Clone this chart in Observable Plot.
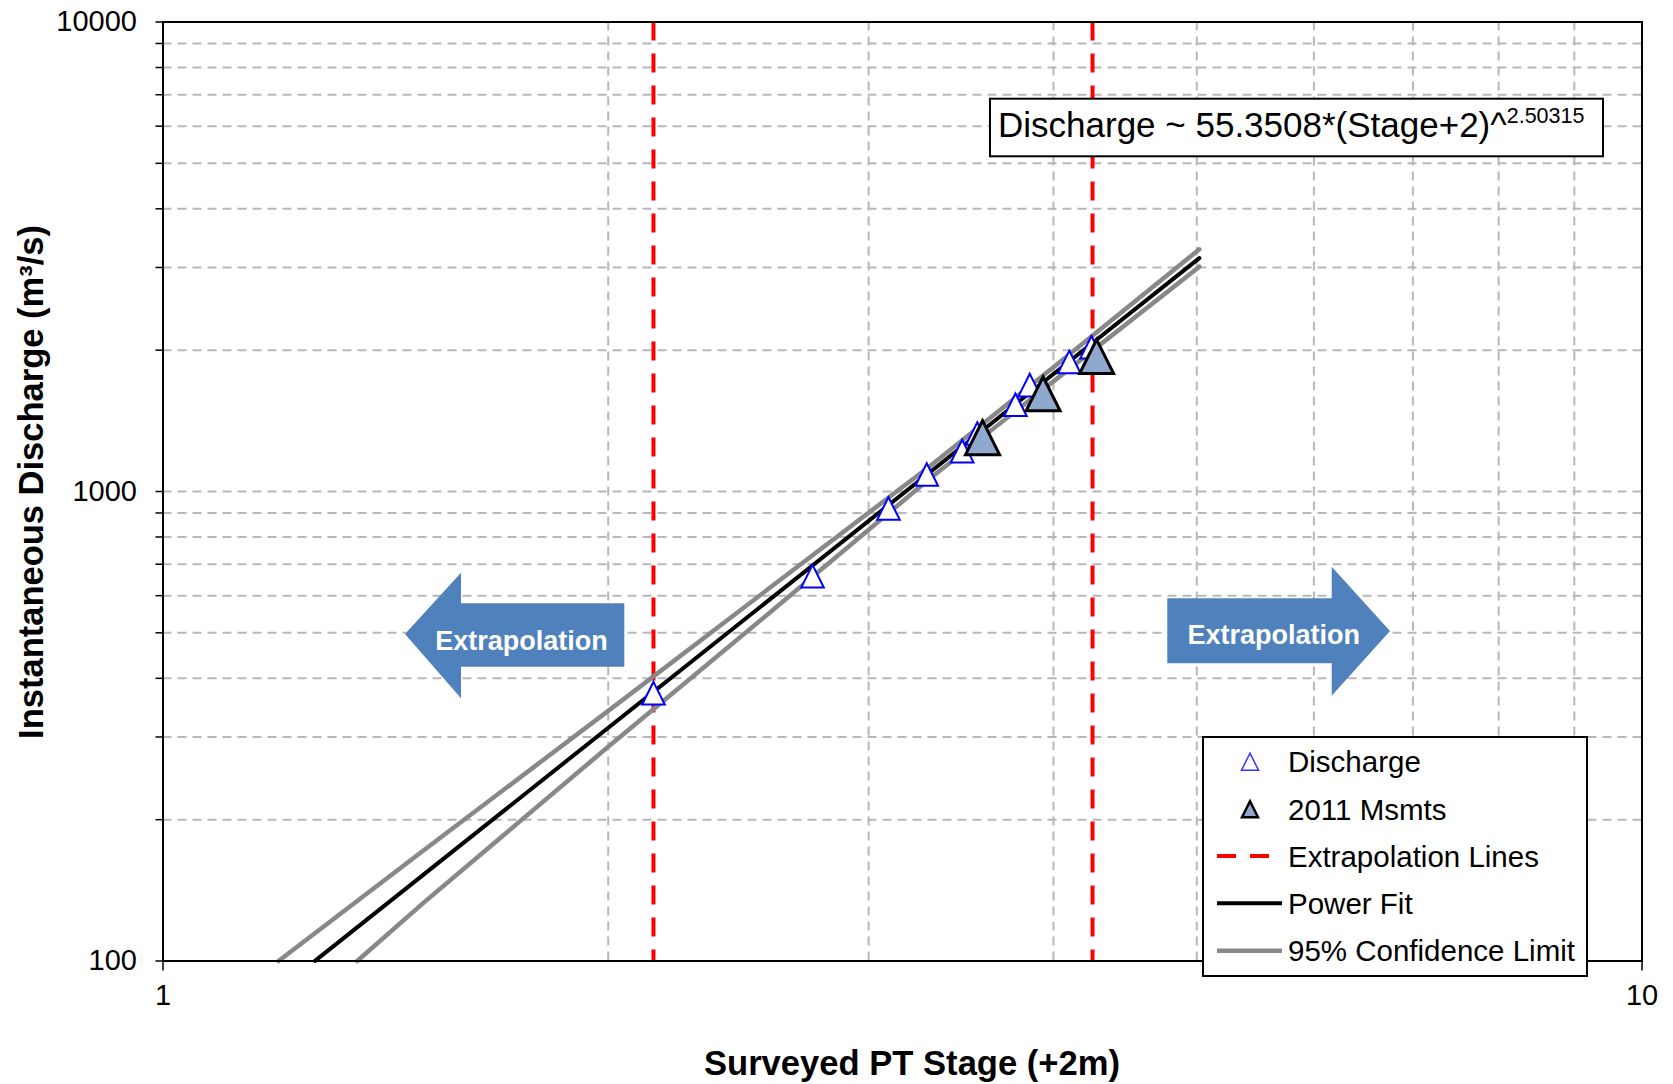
<!DOCTYPE html>
<html>
<head>
<meta charset="utf-8">
<script src="https://cdn.jsdelivr.net/npm/d3@7"></script>
<script src="https://cdn.jsdelivr.net/npm/@observablehq/plot@0.6"></script>
<style>
  body { margin: 0; background: #fff; }
  #chart svg text { font-family: "Liberation Sans", Arial, sans-serif; }
</style>
</head>
<body>
<div id="chart"></div>
<script>
// Stage values are surveyed PT stage + 2 m; discharge in m³/s.
const dischargeStage = [2.146, 2.749, 3.094, 3.284, 3.470, 3.553, 3.770, 3.855, 4.100, 4.244];
const dischargeValue = [372, 660, 920, 1087, 1219, 1329, 1530, 1685, 1888, 2029];

const msmt2011Stage = [3.582, 3.936, 4.278];
const msmt2011Value = [1302, 1615, 1938];

const extrapolationStage = [2.146, 4.251];

// Power fit: Discharge ~ 55.3508*(Stage+2)^2.50315
const fitCoef = 55.3508;
const fitExp = 2.50315;
const fitStage = [1.267, 5.02];

// 95% confidence limits
const upperStage = [1.197, 1.5, 2.0, 2.6, 3.3, 4.0, 5.02];
const upperValue = [100, 172, 341, 640, 1132, 1840, 3280];
const lowerStage = [1.353, 1.5, 2.0, 2.6, 3.3, 4.0, 5.02];
const lowerValue = [100, 133, 286, 568, 1066, 1716, 3012];

const xTicks = [1, 10];
const xGrid = [2, 3, 4, 5, 6, 7, 8, 9];
const yTicks = [100, 200, 300, 400, 500, 600, 700, 800, 900,
                1000, 2000, 3000, 4000, 5000, 6000, 7000, 8000, 9000, 10000];
const yTickLabels = [100, 1000, 10000];

const zip = (xs, ys) => xs.map((x, i) => ({x, y: ys[i]}));
const discharge = zip(dischargeStage, dischargeValue);
const msmts = zip(msmt2011Stage, msmt2011Value);
const fit = fitStage.map(x => ({x, y: fitCoef * Math.pow(x, fitExp)}));
const upper = zip(upperStage, upperValue);
const lower = zip(lowerStage, lowerValue);

// Triangle centred on its bounding box
const triangle = {
  draw(ctx, size) {
    const k = Math.sqrt(size / Math.PI);
    ctx.moveTo(0, -k);
    ctx.lineTo(k, k);
    ctx.lineTo(-k, k);
    ctx.closePath();
  }
};

const gridStyle = {stroke: "#b8b8b8", strokeOpacity: 1, strokeWidth: 2, strokeDasharray: "9,6"};

const W = 1673, H = 1084;
const plot = Plot.plot({
  width: W,
  height: H,
  marginLeft: 162.5,
  marginRight: 31.5,
  marginTop: 21.5,
  marginBottom: 123.5,
  style: {background: "white", fontFamily: "Liberation Sans, Arial, sans-serif"},
  x: {type: "log", domain: [1, 10]},
  y: {type: "log", domain: [100, 10000]},
  marks: [
    Plot.gridX({ticks: xGrid, ...gridStyle}),
    Plot.gridY({ticks: yTicks.filter(d => d !== 100 && d !== 10000), ...gridStyle}),
    Plot.ruleX(extrapolationStage, {stroke: "#ff0000", strokeWidth: 4, strokeDasharray: "19,13"}),
    Plot.line(upper, {x: "x", y: "y", stroke: "#888888", strokeWidth: 4.5}),
    Plot.line(lower, {x: "x", y: "y", stroke: "#888888", strokeWidth: 4.5}),
    Plot.line(fit, {x: "x", y: "y", stroke: "black", strokeWidth: 4}),
    Plot.dot(discharge, {x: "x", y: "y", symbol: triangle, r: 11.3, fill: "white", stroke: "#0000ff", strokeWidth: 2}),
    Plot.dot(msmts, {x: "x", y: "y", symbol: triangle, r: 17, fill: "#8fa8cd", stroke: "black", strokeWidth: 3}),
    Plot.frame({stroke: "black", strokeWidth: 2}),
    Plot.axisY({ticks: yTicks, tickSize: 7, tickPadding: 19, strokeWidth: 1.5, fontSize: 29,
      tickFormat: d => yTickLabels.includes(d) ? String(d) : "", label: null}),
    Plot.axisX({ticks: xTicks, tickSize: 10, tickPadding: 13, strokeWidth: 1.5, fontSize: 29,
      tickFormat: d => String(d), label: null})
  ]
});

document.getElementById("chart").appendChild(plot);

const svg = d3.select(plot);
const font = "Liberation Sans, Arial, sans-serif";

// Axis titles
svg.append("text")
  .attr("x", 912).attr("y", 1075)
  .attr("text-anchor", "middle")
  .attr("font-family", font).attr("font-size", 34.6).attr("font-weight", "bold")
  .attr("fill", "black")
  .text("Surveyed PT Stage (+2m)");

svg.append("text")
  .attr("transform", "translate(43,482) rotate(-90)")
  .attr("text-anchor", "middle")
  .attr("font-family", font).attr("font-size", 34.5).attr("font-weight", "bold")
  .attr("fill", "black")
  .text("Instantaneous Discharge (m³/s)");

// Extrapolation arrows
const arrowColor = "#4f81bd";
const leftArrow = [[405, 634], [461, 572.7], [461, 603.3], [624.3, 603.3], [624.3, 666.7], [461, 666.7], [461, 698.3]];
const rightArrow = [[1390, 631], [1331.7, 566.7], [1331.7, 598.3], [1167.3, 598.3], [1167.3, 663.3], [1331.7, 663.3], [1331.7, 695.7]];
for (const [pts, cx, by] of [[leftArrow, 521.5, 650], [rightArrow, 1273.7, 644]]) {
  svg.append("path")
    .attr("d", "M" + pts.map(p => p.join(",")).join("L") + "Z")
    .attr("fill", arrowColor);
  svg.append("text")
    .attr("x", cx).attr("y", by)
    .attr("text-anchor", "middle")
    .attr("font-family", font).attr("font-size", 27).attr("font-weight", "bold")
    .attr("fill", "white")
    .text("Extrapolation");
}

// Equation box
svg.append("rect")
  .attr("x", 990).attr("y", 98.7).attr("width", 613).attr("height", 57.6)
  .attr("fill", "white").attr("stroke", "black").attr("stroke-width", 2);
const eq = svg.append("text")
  .attr("x", 998).attr("y", 137)
  .attr("text-anchor", "start")
  .attr("font-family", font).attr("font-size", 35).attr("fill", "black");
eq.append("tspan").text("Discharge ~ 55.3508*(Stage+2)^");
eq.append("tspan").attr("font-size", 21.5).attr("dy", -14).text("2.50315");

// Legend
const lg = svg.append("g");
lg.append("rect")
  .attr("x", 1203).attr("y", 737).attr("width", 384).attr("height", 239)
  .attr("fill", "white").attr("stroke", "black").attr("stroke-width", 2);
const rows = [761.7, 809.3, 856, 903.3, 950.7];
const labels = ["Discharge", "2011 Msmts", "Extrapolation Lines", "Power Fit", "95% Confidence Limit"];
const tri = (cx, cy, k) => `M${cx},${cy - k}L${cx + k},${cy + k}L${cx - k},${cy + k}Z`;
lg.append("path").attr("d", tri(1250, rows[0], 8.5))
  .attr("fill", "white").attr("stroke", "#3333ff").attr("stroke-width", 1.5);
lg.append("path").attr("d", tri(1250, rows[1], 8))
  .attr("fill", "#8fa8cd").attr("stroke", "black").attr("stroke-width", 2.5);
lg.append("line").attr("x1", 1217).attr("x2", 1269).attr("y1", rows[2]).attr("y2", rows[2])
  .attr("stroke", "#ff0000").attr("stroke-width", 4).attr("stroke-dasharray", "19,14");
lg.append("line").attr("x1", 1217).attr("x2", 1282).attr("y1", rows[3]).attr("y2", rows[3])
  .attr("stroke", "black").attr("stroke-width", 4);
lg.append("line").attr("x1", 1217).attr("x2", 1282).attr("y1", rows[4]).attr("y2", rows[4])
  .attr("stroke", "#888888").attr("stroke-width", 4.5);
labels.forEach((t, i) => {
  lg.append("text")
    .attr("x", 1288).attr("y", rows[i] + 10.5)
    .attr("text-anchor", "start")
    .attr("font-family", font).attr("font-size", 29.5).attr("fill", "black")
    .text(t);
});
</script>
</body>
</html>
